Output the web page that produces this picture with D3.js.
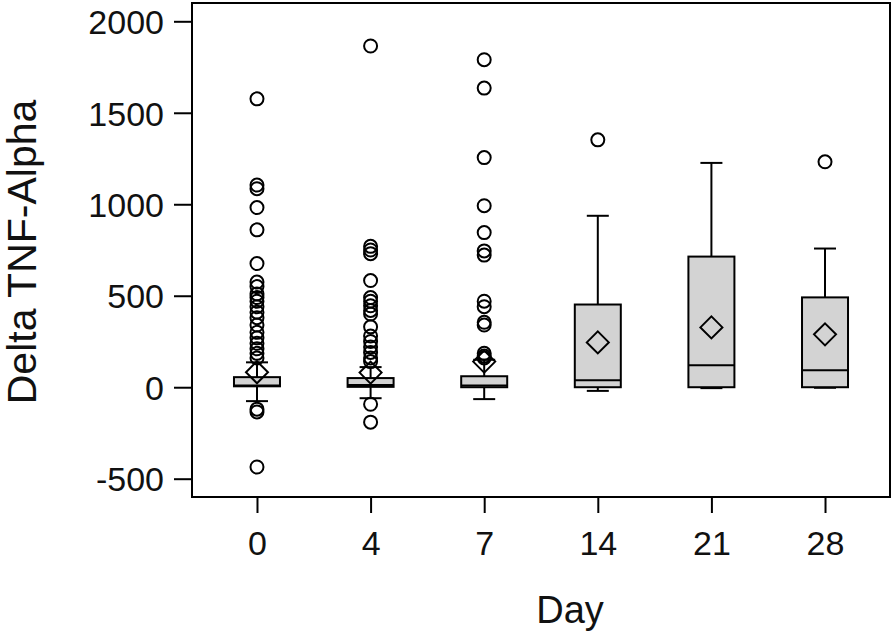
<!DOCTYPE html>
<html>
<head>
<meta charset="utf-8">
<script src="https://cdn.jsdelivr.net/npm/d3@7"></script>
<style>
  body { margin: 0; background: #fff; }
  svg { display: block; font-family: "Liberation Sans", Arial, sans-serif; }
</style>
</head>
<body>
<div id="chart"></div>
<script>
const days = ["0", "4", "7", "14", "21", "28"];
const q1 = [5, 2, 0, 0, 0, 0];
const medians = [10, 12, 10, 38, 120, 93];
const q3 = [55, 50, 60, 452, 714, 491];
const whiskerLow = [-76, -60, -65, -20, -5, -3];
const whiskerHigh = [136, 110, 150, 937, 1226, 758];
const means = [82, 80, 140, 245, 327, 289];
const outliers = [
    [1576, 1105, 1085, 982, 860, 676, 575, 550, 510, 490, 470, 440, 410, 380, 340, 300, 270, 240, 210, 185, 160, -120, -135, -436],
    [1865, 770, 750, 730, 583, 490, 470, 445, 420, 400, 330, 280, 250, 220, 190, 160, 140, -93, -191],
    [1790, 1635, 1255, 992, 845, 745, 722, 470, 440, 355, 340, 185, 170, 160],
    [1352],
    [],
    [1232]
];
const yTicks = [-500, 0, 500, 1000, 1500, 2000];

const width = 894, height = 640;
const plot = { left: 192, right: 890, top: 3, bottom: 497 };

const svg = d3.select("#chart")
    .append("svg")
    .attr("width", width)
    .attr("height", height);

const x = d3.scalePoint()
    .domain(days)
    .range([plot.left, plot.right])
    .padding(0.572);

const y = d3.scaleLinear()
    .domain([-600, 2100])
    .range([plot.bottom, plot.top]);

const boxW = 46, capW = 22, diam = 11;

// axes
const yAxis = svg.append("g")
    .attr("transform", `translate(${plot.left},0)`)
    .call(d3.axisLeft(y).tickValues(yTicks).tickSize(18).tickPadding(10).tickFormat(d => String(d)));
yAxis.select(".domain").remove();
yAxis.selectAll("line").attr("stroke", "#000").attr("stroke-width", 2);
yAxis.selectAll("text").style("font-size", "34px").attr("fill", "#111").attr("dy", "0.36em");

const xAxis = svg.append("g")
    .attr("transform", `translate(0,${plot.bottom})`)
    .call(d3.axisBottom(x).tickSize(16).tickPadding(18));
xAxis.select(".domain").remove();
xAxis.selectAll("line").attr("stroke", "#000").attr("stroke-width", 2);
xAxis.selectAll("text").style("font-size", "34px").attr("fill", "#111");

// frame
svg.append("rect")
    .attr("x", plot.left).attr("y", plot.top)
    .attr("width", plot.right - plot.left)
    .attr("height", plot.bottom - plot.top)
    .attr("fill", "none")
    .attr("stroke", "#000")
    .attr("stroke-width", 2);

// titles
svg.append("text")
    .attr("transform", `translate(36,${(y(-500) + y(2000)) / 2 + 2}) rotate(-90)`)
    .attr("text-anchor", "middle")
    .style("font-size", "41px")
    .attr("fill", "#111")
    .text("Delta TNF-Alpha");

svg.append("text")
    .attr("x", (plot.left + plot.right) / 2 + 29)
    .attr("y", 623)
    .attr("text-anchor", "middle")
    .style("font-size", "38px")
    .attr("fill", "#111")
    .text("Day");

const boxes = days.map((d, i) => ({
    day: d, q1: q1[i], med: medians[i], q3: q3[i],
    lo: whiskerLow[i], hi: whiskerHigh[i], mean: means[i], out: outliers[i]
}));

const g = svg.append("g")
    .attr("stroke", "#000")
    .attr("stroke-width", 2);

const box = g.selectAll(".box")
    .data(boxes)
    .enter()
    .append("g")
    .attr("class", "box")
    .attr("transform", d => `translate(${x(d.day)},0)`);

// whiskers
box.append("line")
    .attr("x1", 0).attr("x2", 0)
    .attr("y1", d => y(d.q3)).attr("y2", d => y(d.hi));
box.append("line")
    .attr("x1", 0).attr("x2", 0)
    .attr("y1", d => y(d.q1)).attr("y2", d => y(d.lo));
box.append("line")
    .attr("x1", -capW / 2).attr("x2", capW / 2)
    .attr("y1", d => y(d.hi)).attr("y2", d => y(d.hi));
box.append("line")
    .attr("x1", -capW / 2).attr("x2", capW / 2)
    .attr("y1", d => y(d.lo)).attr("y2", d => y(d.lo));

box.append("rect")
    .attr("x", -boxW / 2)
    .attr("width", boxW)
    .attr("y", d => y(d.q3))
    .attr("height", d => y(d.q1) - y(d.q3))
    .attr("fill", "#d3d3d3");

box.append("line")
    .attr("x1", -boxW / 2).attr("x2", boxW / 2)
    .attr("y1", d => y(d.med)).attr("y2", d => y(d.med));

// outliers
box.selectAll("circle")
    .data(d => d.out)
    .enter()
    .append("circle")
    .attr("cx", 0)
    .attr("cy", v => y(v))
    .attr("r", 6.5)
    .attr("fill", "none");

// mean diamond
box.append("path")
    .attr("fill", "none")
    .attr("d", d => {
        const cy = y(d.mean);
        return `M0,${cy - diam}L${diam},${cy}L0,${cy + diam}L${-diam},${cy}Z`;
    });
</script>
</body>
</html>
